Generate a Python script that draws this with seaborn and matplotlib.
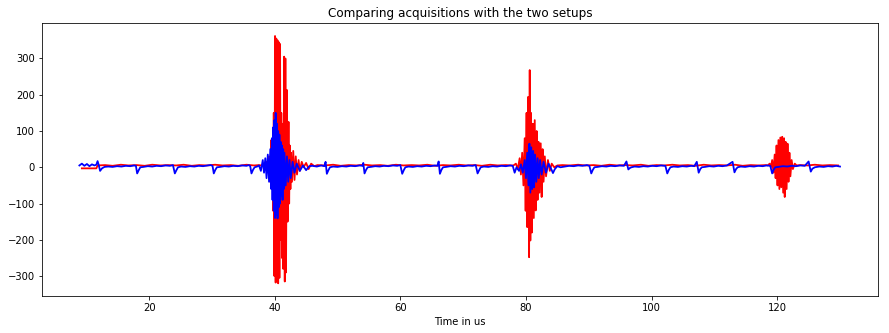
import numpy as np
import pandas as pd
import matplotlib
matplotlib.use("Agg")
import matplotlib.pyplot as plt
import seaborn as sns

# ---------------- red series (setup 1) ----------------
red_base1_t = [9.3, 11.6, 11.8, 13.0, 14.2, 15.5, 16.7, 18.0, 19.3, 20.5, 21.8, 23.0,
               24.3, 25.5, 26.8, 28.0, 29.2, 30.5, 31.7, 33.0, 34.2, 35.5, 36.7, 37.5]
red_base1_v = [-3, -3, 5, 6, 4, 7, 5, 6, 4, 7, 5, 6, 5, 7, 4, 6, 5, 7, 5, 6, 4, 7, 5, 6]

red_burst1_t = [37.8, 38.2, 38.5, 38.7, 38.9, 39.1, 39.3, 39.45, 39.55, 39.65, 39.75, 39.85,
                39.95, 40.05, 40.15, 40.25, 40.35, 40.45, 40.55, 40.65, 40.75, 40.85, 40.95,
                41.05, 41.15, 41.25, 41.35, 41.5, 41.6, 41.7, 41.8, 41.95, 42.05, 42.2, 42.3,
                42.4, 42.5, 42.6, 42.75, 42.95, 43.15, 43.35, 43.55, 43.8, 44.0, 44.3, 44.6,
                45.0, 45.4, 45.8, 46.3]
red_burst1_v = [5, 8, 0, 15, -10, 30, -40, 75, -60, 50, -120, 150, -300, 362, -318, 355,
                -310, 350, -320, 345, -305, 340, -200, 150, -250, 120, -280, 305, -315, 300,
                -290, 213, -150, 125, -100, 60, -60, 40, -40, 45, -35, 30, -20, 20, -10, 15,
                0, 12, -5, 10, 3]

red_base2_t = [46.8, 48.0, 49.3, 50.5, 51.8, 53.0, 54.3, 55.5, 56.8, 58.0, 59.3, 60.5, 61.8,
               63.0, 64.3, 65.5, 66.8, 68.0, 69.3, 70.5, 71.8, 73.0, 74.3, 75.5, 76.8, 77.6]
red_base2_v = [6, 5, 7, 4, 6, 5, 7, 5, 6, 4, 7, 5, 6, 5, 7, 4, 6, 5, 7, 5, 6, 4, 7, 5, 6, 5]

red_burst2_t = [78.0, 78.4, 78.7, 79.0, 79.2, 79.4, 79.6, 79.8, 79.95, 80.1, 80.2, 80.35,
                80.5, 80.6, 80.7, 80.8, 80.95, 81.1, 81.25, 81.4, 81.55, 81.7, 81.85, 82.0,
                82.15, 82.35, 82.5, 82.65, 82.8, 83.0, 83.2, 83.5, 83.8, 84.1, 84.5, 85.0]
red_burst2_v = [5, 10, -5, 25, -20, 40, -50, 80, -120, 150, -165, 194, -248, 268, -202, 150,
                -180, 120, -140, 130, -119, 100, -90, 70, -70, 66, -82, 50, -40, 30, -25, 20,
                -10, 10, 0, 5]

red_base3_t = [85.8, 87.0, 88.3, 89.5, 90.8, 92.0, 93.3, 94.5, 95.8, 97.0, 98.3, 99.5, 100.8,
               102.0, 103.3, 104.5, 105.8, 107.0, 108.3, 109.5, 110.8, 112.0, 113.3, 114.5,
               115.8, 117.0, 118.2]
red_base3_v = [6, 5, 7, 5, 6, 4, 7, 5, 6, 5, 7, 4, 6, 5, 7, 5, 6, 4, 7, 5, 6, 5, 7, 4, 6, 5, 6]

red_burst3_t = [118.5, 118.8, 119.0, 119.2, 119.4, 119.6, 119.75, 119.9, 120.05, 120.2, 120.35,
                120.5, 120.65, 120.8, 120.95, 121.1, 121.2, 121.35, 121.5, 121.65, 121.8,
                121.95, 122.1, 122.3, 122.5, 122.8, 123.1]
red_burst3_v = [5, 10, 0, 20, -15, 35, -30, 60, -50, 75, -60, 82, -55, 84, -70, 80, -82, 70,
                -60, 65, -40, 40, -25, 20, -5, 10, 5]

red_base4_t = [123.6, 124.8, 126.0, 127.2, 128.4, 129.7]
red_base4_v = [6, 5, 7, 5, 6, 5]

# ---------------- blue series (setup 2) ----------------
blue_base1_t = [8.9, 9.3, 9.7, 10.1, 10.5, 10.9, 11.3, 11.6, 11.8, 12.0, 12.2, 12.5, 12.9,
                13.5, 14.2, 14.9, 15.6, 16.3, 17.0, 17.6, 17.9, 18.1, 18.35, 18.6, 19.1, 19.8,
                20.5, 21.2, 21.9, 22.6, 23.3, 23.8, 24.1, 24.35, 24.6, 25.1, 25.8, 26.5, 27.2,
                27.9, 28.6, 29.3, 29.8, 30.1, 30.3, 30.55, 30.8, 31.3, 32.0, 32.7, 33.4, 34.1,
                34.8, 35.5, 35.9, 36.1, 36.3, 36.55, 36.8]
blue_base1_v = [5, 10, 4, 9, 3, 8, 5, 7, 17, 5, -10, -3, 1, 2, 1, 3, 2, 4, 3, 5, 4, -17, -8,
                0, 1, 3, 2, 4, 3, 5, 4, 6, -17, -8, 0, 2, 1, 3, 2, 4, 3, 5, 6, 4, -17, -7, 0,
                1, 3, 2, 4, 3, 5, 4, 6, 3, -17, -7, 0]

blue_burst1_t = [37.2, 37.5, 37.8, 38.1, 38.3, 38.5, 38.7, 38.9, 39.1, 39.3, 39.45, 39.55,
                 39.65, 39.75, 39.85, 39.95, 40.05, 40.15, 40.25, 40.35, 40.45, 40.55, 40.65,
                 40.75, 40.85, 40.95, 41.05, 41.15, 41.25, 41.35, 41.45, 41.55, 41.75, 41.95,
                 42.15, 42.35, 42.55, 42.85, 43.15, 43.5, 44.0, 44.5, 45.0, 45.5]
blue_burst1_v = [2, 5, -10, 20, -15, 25, -30, 35, -40, 50, -60, 80, -90, 110, -120, 130, -140,
                 150, -130, 120, -141, 100, -110, 90, -100, 70, -80, 60, -90, 50, -60, 40, -50,
                 30, -40, 20, -30, 15, -15, 10, -10, 5, -8, 3]

blue_base2_t = [46.0, 46.7, 47.4, 47.9, 48.1, 48.3, 48.55, 48.8, 49.3, 50.0, 50.7, 51.4, 52.1,
                52.8, 53.5, 54.0, 54.1, 54.3, 54.55, 54.8, 55.3, 56.0, 56.7, 57.4, 58.1, 58.8,
                59.5, 60.0, 60.3, 60.55, 60.8, 61.3, 62.0, 62.7, 63.4, 64.1, 64.8, 65.5, 65.9,
                66.1, 66.3, 66.55, 66.8, 67.3, 68.0, 68.7, 69.4, 70.1, 70.8, 71.5, 72.0, 72.3,
                72.55, 72.8, 73.3, 74.0, 74.7, 75.4, 76.1, 76.8, 77.5, 77.9, 78.2]
blue_base2_v = [4, 2, 5, 3, 15, -18, -8, 0, 2, 1, 3, 2, 4, 3, 5, 4, 12, -17, -7, 0, 1, 3, 2,
                4, 3, 5, 4, 6, -18, -8, 0, 2, 1, 3, 2, 4, 3, 5, 4, 16, -18, -7, 0, 1, 3, 2, 4,
                3, 5, 4, 6, -17, -8, 0, 2, 1, 3, 2, 4, 3, 5, 4, -15]

blue_burst2_t = [78.5, 78.9, 79.2, 79.5, 79.8, 80.0, 80.2, 80.4, 80.55, 80.7, 80.85, 81.0,
                 81.15, 81.3, 81.45, 81.65, 81.85, 82.05, 82.25, 82.5, 82.8, 83.2, 83.6, 84.1,
                 84.3, 84.6, 85.0, 85.5]
blue_burst2_v = [0, -10, 8, -15, 20, -30, 40, -50, 65, -70, 55, -60, 45, -55, 35, -40, 25,
                 -30, 20, -20, 15, -15, 10, -8, -16, -5, 3, 0]

blue_base3_t = [86.2, 86.9, 87.6, 88.3, 89.0, 89.7, 90.1, 90.4, 90.65, 90.9, 91.4, 92.1, 92.8,
                93.5, 94.2, 94.9, 95.6, 96.0, 96.3, 96.55, 96.8, 97.3, 98.0, 98.7, 99.4, 100.1,
                100.8, 101.5, 102.2, 102.5, 102.75, 103.0, 103.5, 104.2, 104.9, 105.6, 106.3,
                106.8, 107.2, 107.5, 107.75, 108.0, 108.5, 109.2, 109.9, 110.6, 111.3, 112.0,
                112.9, 113.2, 113.45, 113.7, 114.2, 114.9, 115.6, 116.3, 117.0, 117.7, 118.3,
                118.9, 119.2, 119.45, 119.7, 120.2, 120.9, 121.6, 122.3, 123.0, 123.7, 124.4,
                125.0, 125.35, 125.6, 126.0, 126.7, 127.4, 128.1, 128.8, 129.4, 130.0]
blue_base3_v = [2, 4, 3, 5, 4, 6, 4, -17, -7, 0, 1, 3, 2, 4, 3, 5, 4, 16, -6, -2, 0, 2, 1, 3,
                2, 4, 3, 5, 4, -17, -7, 0, 2, 1, 3, 2, 4, 3, 15, -15, -5, 0, 1, 3, 2, 4, 3, 5,
                15, -14, -5, 0, 2, 1, 3, 2, 4, 3, 5, 4, -17, -6, 0, 1, 3, 2, 4, 3, 5, 4, 16,
                -12, -4, 0, 2, 1, 3, 2, 4, 2]

red_t = (red_base1_t + red_burst1_t + red_base2_t + red_burst2_t + red_base3_t
         + red_burst3_t + red_base4_t)
red_v = (red_base1_v + red_burst1_v + red_base2_v + red_burst2_v + red_base3_v
         + red_burst3_v + red_base4_v)
blue_t = blue_base1_t + blue_burst1_t + blue_base2_t + blue_burst2_t + blue_base3_t
blue_v = blue_base1_v + blue_burst1_v + blue_base2_v + blue_burst2_v + blue_base3_v

red_df = pd.DataFrame({"t": red_t, "v": red_v})
blue_df = pd.DataFrame({"t": blue_t, "v": blue_v})

W, H, DPI = 889, 333, 72
fig = plt.figure(figsize=(W / DPI, H / DPI), dpi=DPI)
ax = fig.add_axes([42 / W, (H - 296) / H, 836 / W, (296 - 23.3) / H])

sns.lineplot(data=red_df, x="t", y="v", color="red", linewidth=1.8,
             estimator=None, sort=False, ax=ax)
sns.lineplot(data=blue_df, x="t", y="v", color="blue", linewidth=1.8,
             estimator=None, sort=False, ax=ax)

ax.set_xlim(2.95, 136.05)
ax.set_ylim(-355, 397)
ax.set_xticks([20, 40, 60, 80, 100, 120])
ax.set_yticks([-300, -200, -100, 0, 100, 200, 300])
ax.set_xlabel("Time in us", fontsize=10)
ax.set_ylabel("")
ax.set_title("Comparing acquisitions with the two setups", fontsize=12)
ax.tick_params(labelsize=10)

fig.savefig("out.png", dpi=DPI)
